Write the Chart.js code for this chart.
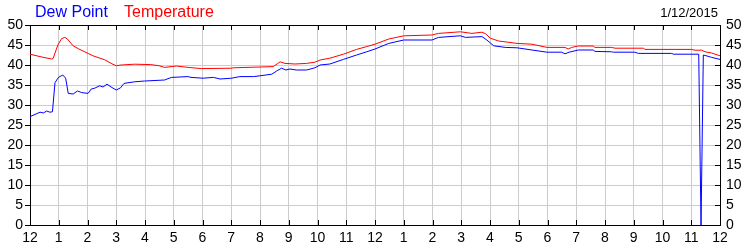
<!DOCTYPE html>
<html lang="en">
<head>
<meta charset="UTF-8">
<title>Dew Point / Temperature</title>
<script src="https://cdn.jsdelivr.net/npm/chart.js"></script>
<style>
  html, body { margin: 0; padding: 0; background: #fff; }
</style>
</head>
<body>
<canvas id="chart" width="750" height="250"></canvas>
<script>
// hour labels along the bottom (midnight to midnight)
var hourLabels = ['12','1','2','3','4','5','6','7','8','9','10','11',
                  '12','1','2','3','4','5','6','7','8','9','10','11','12'];
var yTicks = [0, 5, 10, 15, 20, 25, 30, 35, 40, 45, 50];
var dateText = '1/12/2015';

// temperature (hours since midnight, °F)
var tempHours = [0, 0.35, 0.74, 0.8, 0.97, 1.1, 1.21, 1.3, 1.5, 1.7, 2.02, 2.19, 2.6, 2.85, 3.0,
  3.17, 3.64, 4.2, 4.5, 4.68, 5.09, 5.5, 5.96, 7.01, 7.07, 8.0, 8.46, 8.6, 8.7, 8.87, 9.22,
  9.62, 9.91, 10.09, 10.43, 10.9, 11.36, 11.71, 12.0, 12.48, 13.0, 13.98, 14.21, 14.97, 15.37,
  15.72, 15.85, 16.01, 16.3, 16.94, 17.46, 17.98, 18.61, 18.72, 18.84, 19.07, 19.59, 19.65,
  20.23, 20.35, 21.33, 21.39, 23.01, 23.13, 23.36, 23.48, 23.71, 24.0];
var tempValues = [42.7, 42.1, 41.5, 41.6, 45.0, 46.6, 46.9, 46.5, 44.8, 44.0, 42.9, 42.3, 41.3, 40.3, 39.8,
  40.0, 40.2, 40.1, 39.8, 39.4, 39.75, 39.4, 39.1, 39.2, 39.3, 39.5, 39.6, 40.3, 40.8, 40.4, 40.25,
  40.4, 40.7, 41.25, 41.7, 42.7, 43.9, 44.6, 45.2, 46.5, 47.3, 47.5, 47.9, 48.3, 47.9,
  48.2, 47.8, 46.7, 46.0, 45.4, 45.2, 44.4, 44.4, 44.0, 44.4, 44.75, 44.75, 44.4,
  44.4, 44.2, 44.2, 43.9, 43.9, 43.7, 43.7, 43.3, 43.0, 42.3];

// dew point
var dewHours = [0, 0.35, 0.46, 0.58, 0.69, 0.78, 0.87, 0.99, 1.14, 1.24, 1.33, 1.5, 1.65, 1.8, 2.02,
  2.13, 2.25, 2.42, 2.54, 2.68, 2.82, 3.0, 3.15, 3.27, 3.64, 3.99, 4.68, 4.92, 5.5, 5.6, 6.02,
  6.38, 6.61, 7.01, 7.3, 7.77, 8.0, 8.41, 8.58, 8.75, 8.9, 9.04, 9.27, 9.62, 9.91, 10.09,
  10.43, 10.9, 11.36, 11.71, 12.0, 12.48, 13.0, 13.98, 14.21, 14.97, 15.15, 15.72, 15.89,
  16.13, 16.53, 16.94, 17.46, 17.98, 18.49, 18.61, 18.75, 19.07, 19.59, 19.65, 20.23, 20.3,
  21.04, 21.16, 22.32, 22.38, 23.26, 23.34, 23.42, 23.55, 23.71, 24.0];
var dewValues = [27.1, 28.2, 28.0, 28.5, 28.2, 28.3, 35.6, 36.9, 37.5, 36.7, 32.9, 32.75, 33.5, 33.1, 32.9,
  34.0, 34.2, 34.8, 34.5, 35.2, 34.5, 33.75, 34.3, 35.4, 35.8, 36.0, 36.25, 36.9, 37.1, 36.9, 36.7,
  36.9, 36.5, 36.7, 37.1, 37.1, 37.3, 37.7, 38.5, 39.2, 38.75, 39.0, 38.75, 38.75, 39.3, 40.0,
  40.25, 41.4, 42.5, 43.3, 44.0, 45.4, 46.25, 46.25, 46.9, 47.3, 46.9, 47.1, 46.25,
  44.8, 44.4, 44.3, 43.75, 43.2, 43.2, 42.8, 43.2, 43.75, 43.75, 43.4, 43.3, 43.2,
  43.2, 42.9, 42.9, 42.7, 42.7, 0, 42.5, 42.25, 41.9, 41.4];

function toPoints(xs, ys) {
    var pts = [];
    for (var i = 0; i < xs.length; i++) pts.push({ x: xs[i], y: ys[i] });
    return pts;
}

var fontName = "'Liberation Sans', Arial, sans-serif";

// header texts, inward tick marks and top border
var decorations = {
    id: 'decorations',
    afterDraw: function (chart) {
        var ctx = chart.ctx;
        var area = chart.chartArea;
        var xs = chart.scales.x;
        var ys = chart.scales.y;
        ctx.save();
        ctx.strokeStyle = '#000';
        ctx.lineWidth = 1;
        ctx.beginPath();
        ctx.moveTo(area.left, Math.round(area.top) + 0.5);
        ctx.lineTo(area.right, Math.round(area.top) + 0.5);
        xs.ticks.forEach(function (t) {
            var px = Math.round(xs.getPixelForValue(t.value)) + 0.5;
            ctx.moveTo(px, area.bottom);
            ctx.lineTo(px, area.bottom - 5);
            ctx.moveTo(px, area.top);
            ctx.lineTo(px, area.top + 5);
        });
        ys.ticks.forEach(function (t) {
            var py = Math.round(ys.getPixelForValue(t.value)) + 0.5;
            ctx.moveTo(area.right, py);
            ctx.lineTo(area.right - 5, py);
        });
        ctx.stroke();

        ctx.textBaseline = 'alphabetic';
        ctx.font = '16px ' + fontName;
        ctx.textAlign = 'left';
        ctx.fillStyle = '#0000ff';
        ctx.fillText('Dew Point', 35, 17);
        ctx.fillStyle = '#ff0000';
        ctx.fillText('Temperature', 124, 17);
        ctx.font = '13px ' + fontName;
        ctx.fillStyle = '#000';
        ctx.textAlign = 'right';
        ctx.fillText(dateText, 718, 17);
        ctx.restore();
    }
};

var tickFont = { family: fontName, size: 14 };

new Chart(document.getElementById('chart').getContext('2d'), {
    type: 'line',
    data: {
        datasets: [{
            label: 'Dew Point',
            data: toPoints(dewHours, dewValues),
            borderColor: '#0000ff',
            borderWidth: 1,
            pointRadius: 0,
            tension: 0,
            fill: false
        }, {
            label: 'Temperature',
            data: toPoints(tempHours, tempValues),
            borderColor: '#ff0000',
            borderWidth: 1,
            pointRadius: 0,
            tension: 0,
            fill: false
        }]
    },
    options: {
        responsive: false,
        animation: false,
        devicePixelRatio: 1,
        layout: { padding: { top: 25, left: 0, right: 0, bottom: 0 } },
        plugins: {
            legend: { display: false },
            tooltip: { enabled: false }
        },
        scales: {
            x: {
                type: 'linear',
                position: 'bottom',
                min: 0,
                max: 24,
                afterBuildTicks: function (s) {
                    s.ticks = hourLabels.map(function (l, i) { return { value: i }; });
                },
                afterFit: function (s) { s.height = 25; },
                ticks: {
                    autoSkip: false,
                    maxRotation: 0,
                    padding: 5,
                    color: '#000',
                    font: tickFont,
                    callback: function (v) { return hourLabels[v]; }
                },
                grid: { color: '#cccccc', drawTicks: false },
                border: { color: '#000' }
            },
            y: {
                position: 'left',
                min: 0,
                max: 50,
                afterBuildTicks: function (s) {
                    s.ticks = yTicks.map(function (v) { return { value: v }; });
                },
                afterFit: function (s) { s.width = 30; },
                ticks: { padding: 2, color: '#000', font: tickFont },
                grid: { color: '#cccccc', tickColor: '#000', tickLength: 5 },
                border: { color: '#000' }
            },
            y2: {
                position: 'right',
                min: 0,
                max: 50,
                afterBuildTicks: function (s) {
                    s.ticks = yTicks.map(function (v) { return { value: v }; });
                },
                afterFit: function (s) { s.width = 30; },
                ticks: { padding: 6, color: '#000', font: tickFont },
                grid: { drawOnChartArea: false, drawTicks: false },
                border: { color: '#000' }
            }
        }
    },
    plugins: [decorations]
});
</script>
</body>
</html>
